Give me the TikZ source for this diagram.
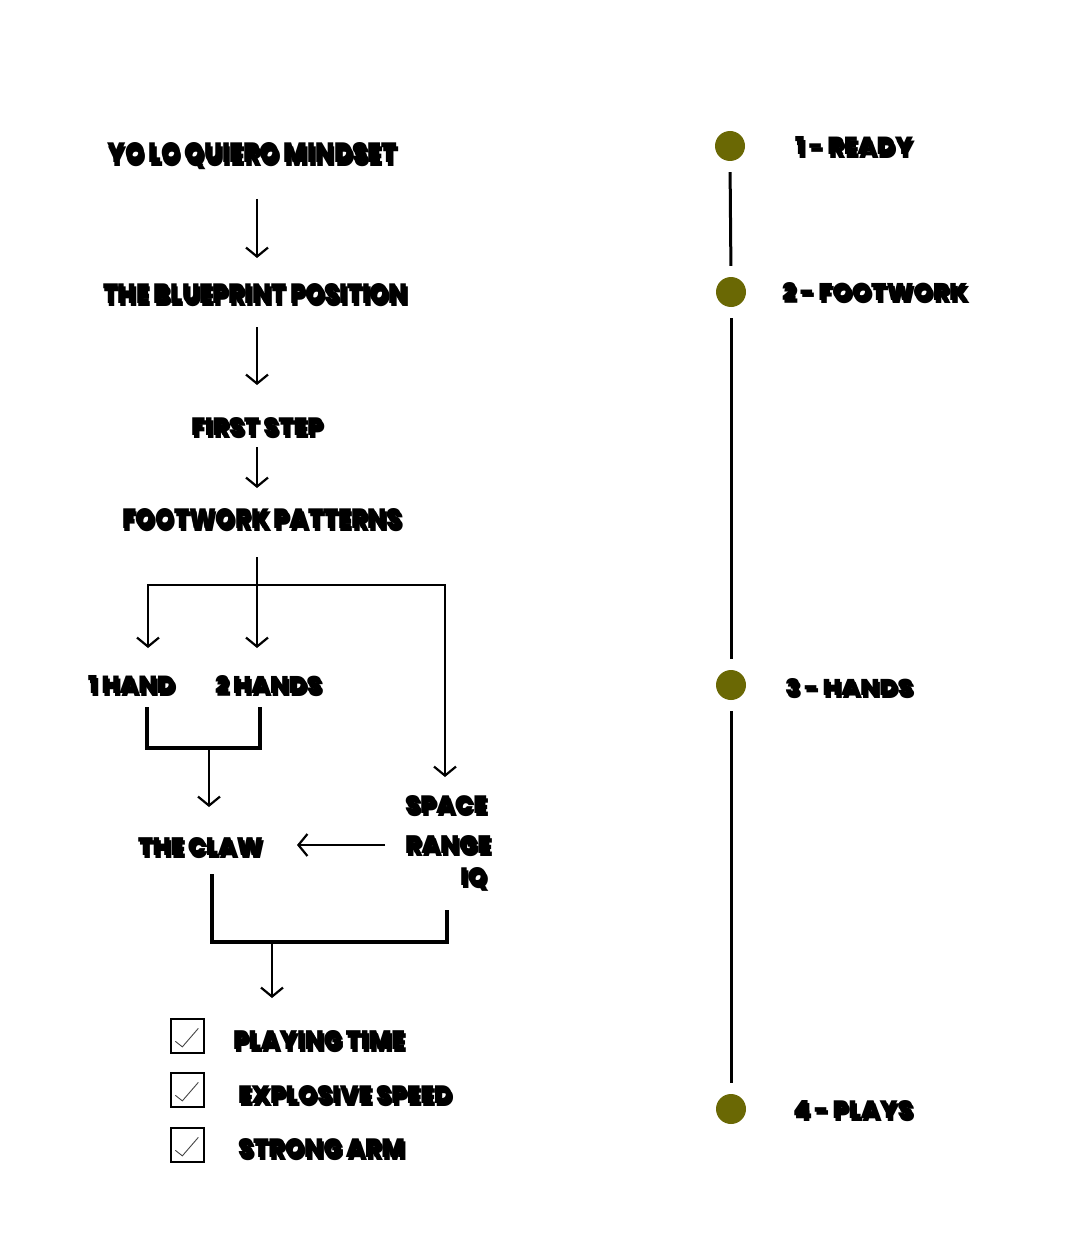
\documentclass[tikz,border=0pt]{standalone}
\usepackage{fontspec}
\usetikzlibrary{arrows.meta,calc}
\IfFontExistsTF{Poppins Black}
  {\newfontfamily\pop{Poppins Black}[LetterSpace=-1]\def\popw{}}
  {\IfFontExistsTF{Poppins ExtraBold}
    {\newfontfamily\pop{Poppins ExtraBold}[LetterSpace=-1]\def\popw{}}
    {\newfontfamily\pop{Poppins}[LetterSpace=0]\def\popw{\bfseries}}}
\definecolor{olivedot}{RGB}{106,104,4}
\definecolor{chkgray}{RGB}{70,70,70}
\newsavebox\labbox
\newcommand\lab[3]{\sbox\labbox{\raisebox{0pt}[\height][0pt]{\resizebox{#1}{#2}{\pop\popw #3}}}%
\rlap{\kern1.8pt\raisebox{-3.2pt}{\color{black!22}\usebox\labbox}}%
\usebox\labbox}
\tikzset{
  lbl/.style={inner sep=0pt, outer sep=0pt, anchor=base west},
  arr/.style={line width=2.2pt, -{Straight Barb[length=9pt,width=22pt]}},
  brk/.style={line width=3.2pt, line join=miter},
  tl/.style={line width=3pt, shorten <=11pt, shorten >=11pt},
  dot/.style={circle, fill=olivedot, draw=none, minimum size=30pt, inner sep=0pt},
  chk/.style={draw=black, line width=1.3pt, minimum width=33pt, minimum height=34pt, inner sep=0pt},
  tick/.style={draw=chkgray, line width=0.9pt}
}
\begin{document}
\begin{tikzpicture}[x=1pt,y=-1pt]
\useasboundingbox[fill=white] (0,0) rectangle (1080,1257);

% left flow labels
\node[lbl] (yolo)  at (107,163)  {\lab{290pt}{20pt}{YO LO QUIERO MINDSET}};
\node[lbl] (bp)    at (103,303)  {\lab{305pt}{20pt}{THE BLUEPRINT POSITION}};
\node[lbl] (fs)    at (191,435)  {\lab{132pt}{18pt}{FIRST STEP}};
\node[lbl] (fp)    at (122,528)  {\lab{280pt}{20pt}{FOOTWORK PATTERNS}};
\node[lbl] (h1)    at (88,693)   {\lab{87pt}{18pt}{1 HAND}};
\node[lbl] (h2)    at (215,693)  {\lab{107pt}{18pt}{2 HANDS}};
\node[lbl] (space) at (405,813)  {\lab{82pt}{18pt}{SPACE}};
\node[lbl] (range) at (405,853)  {\lab{86pt}{18pt}{RANGE}};
\node[lbl] (iq)    at (460,885)  {\lab{27pt}{18pt}{IQ}};
\node[lbl] (claw)  at (138,855)  {\lab{125pt}{18pt}{THE CLAW}};
\node[lbl] (pt)    at (233,1049) {\lab{172pt}{19pt}{PLAYING TIME}};
\node[lbl] (es)    at (238,1103) {\lab{214pt}{18pt}{EXPLOSIVE SPEED}};
\node[lbl] (sa)    at (238,1157) {\lab{167pt}{19pt}{STRONG ARM}};

% connector end points
\coordinate (a1s) at (257,199);  \coordinate (a1e) at (257,258);
\coordinate (a2s) at (257,327);  \coordinate (a2e) at (257,385);
\coordinate (a3s) at (257,447);  \coordinate (a3e) at (257,488);
\coordinate (fk0) at (257,557);  \coordinate (fkj) at (257,585);
\coordinate (h1t) at (148,648);  \coordinate (h2t) at (257,648);
\coordinate (spt) at (445,777);
\coordinate (b1a) at (147,707);  \coordinate (b1b) at (260,707);
\coordinate (b1m) at (209,748);  \coordinate (b1e) at (209,807);
\coordinate (cls) at (385,845);  \coordinate (cle) at (297,845);
\coordinate (b2a) at (212,874);  \coordinate (b2b) at (447,910);
\coordinate (b2m) at (272,942);  \coordinate (b2e) at (272,998);

\draw[arr] (a1s) -- (a1e);
\draw[arr] (a2s) -- (a2e);
\draw[arr] (a3s) -- (a3e);
\draw[arr] (fk0) -- (h2t);
\draw[arr] (fkj) -| (h1t);
\draw[arr] (fkj) -| (spt);
\draw[brk] (b1a) |- (b1m) -| (b1b);
\draw[arr] (b1m) -- (b1e);
\draw[arr] (cls) -- (cle);
\draw[brk] (b2a) |- (b2m) -| (b2b);
\draw[arr] (b2m) -- (b2e);

% check boxes
\foreach \n/\y in {c1/1036, c2/1090, c3/1145}{
  \node[chk] (\n) at (187.5,\y) {};
  \draw[tick] ($(\n.north west)+(5,23)$) -- ($(\n.north west)+(12,28.5)$) -- ($(\n.north west)+(28,10)$);
}

% timeline
\node[dot] (d1) at (730,146)  {};
\node[dot] (d2) at (731,292)  {};
\node[dot] (d3) at (731,685)  {};
\node[dot] (d4) at (731,1109) {};
\draw[tl] (d1.south) -- (d2.north);
\draw[tl] (d2.south) -- (d3.north);
\draw[tl] (d3.south) -- (d4.north);

\node[lbl] (t1) at (795,155)  {\lab{118pt}{18pt}{1 - READY}};
\node[lbl] (t2) at (782,300)  {\lab{186pt}{18pt}{2 - FOOTWORK}};
\node[lbl] (t3) at (785,695)  {\lab{128pt}{17pt}{3 - HANDS}};
\node[lbl] (t4) at (793,1118) {\lab{120pt}{18pt}{4 - PLAYS}};
\end{tikzpicture}
\end{document}
